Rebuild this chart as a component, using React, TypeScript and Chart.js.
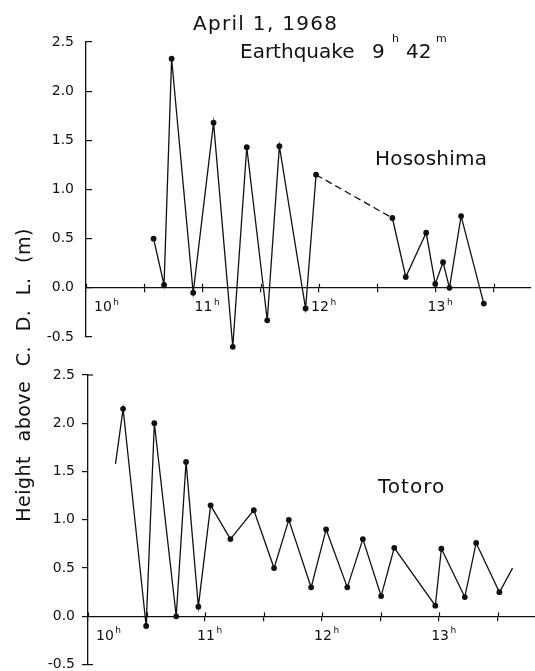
import React, { useEffect, useRef } from "react";
import { Chart, registerables } from "chart.js";

Chart.register(...registerables);

// ---------- data ----------
const hososhimaTime = [10.58, 10.67, 10.735, 10.92, 11.095, 11.26, 11.38, 11.556, 11.66, 11.885, 11.975, 12.63, 12.745, 12.92, 12.998, 13.065, 13.12, 13.22, 13.415];
const hososhimaHeight = [0.5, 0.03, 2.33, -0.05, 1.68, -0.6, 1.43, -0.33, 1.44, -0.21, 1.15, 0.71, 0.11, 0.56, 0.04, 0.26, 0.0, 0.73, -0.16];
// index of the segment drawn dashed (from point i to i+1)
const hososhimaDashedFrom = [10];

const totoroTime = [10.235, 10.3, 10.497, 10.567, 10.754, 10.838, 10.943, 11.048, 11.217, 11.417, 11.59, 11.716, 11.907, 12.035, 12.216, 12.349, 12.505, 12.617, 12.968, 13.02, 13.22, 13.317, 13.516, 13.628];
const totoroHeight = [1.58, 2.15, -0.1, 2.0, 0.0, 1.6, 0.1, 1.15, 0.8, 1.1, 0.5, 1.0, 0.3, 0.9, 0.3, 0.8, 0.21, 0.71, 0.11, 0.7, 0.2, 0.76, 0.25, 0.5];

const hourTicks = [10, 11, 12, 13];
const hourRange = [10, 13.82];
const heightRange = [-0.5, 2.5];
const heightStep = 0.5;
const hourStep = 0.5;

const titleDate = "April 1, 1968";
const titleQuake = "Earthquake";
const quakeHour = "9";
const quakeMinute = "42";
const yAxisTitle = "Height above C. D. L. (m)";
const stationTop = "Hososhima";
const stationBottom = "Totoro";

// ---------- style ----------
const FONT = '"DejaVu Sans", "Liberation Sans", sans-serif';
const INK = "#111111";
const POINT_R = 2.9;

type DecorOpts = {
  station: string;
  stationX: number;
  stationY: number;
  stationSpacing: number;
  rightCaps: boolean;
  titles: boolean;
};

function makeDecor(o: DecorOpts) {
  return {
    id: "decor",
    afterDatasetsDraw(chart: any) {
      // markers that fall outside the chart area (Chart.js skips them)
      const ctx: CanvasRenderingContext2D = chart.ctx;
      const area = chart.chartArea;
      const meta = chart.getDatasetMeta(0);
      ctx.save();
      ctx.fillStyle = INK;
      meta.data.forEach((pt: any) => {
        const r = pt.options ? pt.options.radius : 0;
        if (r > 0 && (pt.y > area.bottom || pt.y < area.top)) {
          ctx.beginPath();
          ctx.arc(pt.x, pt.y, r, 0, Math.PI * 2);
          ctx.fill();
        }
      });
      ctx.restore();
    },
    afterDraw(chart: any) {
      const ctx: CanvasRenderingContext2D = chart.ctx;
      const xs = chart.scales.x;
      const ys = chart.scales.y;
      const y0 = ys.getPixelForValue(0);
      ctx.save();
      ctx.strokeStyle = INK;
      ctx.fillStyle = INK;
      ctx.lineWidth = 1.2;
      // upper half of the x-axis tick marks
      xs.ticks.forEach((t: any) => {
        const px = Math.round(xs.getPixelForValue(t.value)) + 0.5;
        ctx.beginPath();
        ctx.moveTo(px, y0 - 4);
        ctx.lineTo(px, y0);
        ctx.stroke();
      });
      // end caps on the y-axis pointing right
      if (o.rightCaps) {
        const ax = chart.chartArea.left;
        [ys.getPixelForValue(heightRange[0]), ys.getPixelForValue(heightRange[1])].forEach((py: number) => {
          ctx.beginPath();
          ctx.moveTo(ax, py);
          ctx.lineTo(ax + 5, py);
          ctx.stroke();
        });
      }
      // hour labels with superscript h
      ctx.textAlign = "left";
      ctx.textBaseline = "alphabetic";
      hourTicks.forEach((h) => {
        const px = xs.getPixelForValue(h);
        ctx.font = `14px ${FONT}`;
        const txt = String(h);
        const w = ctx.measureText(txt).width;
        const left = h === xs.min ? px + 8 : px + 1 - w / 2;
        ctx.fillText(txt, left, y0 + 23.5);
        ctx.font = `9px ${FONT}`;
        ctx.fillText("h", left + w + 1.5, y0 + 17);
      });
      // station name
      ctx.font = `20px ${FONT}`;
      (ctx as any).letterSpacing = `${o.stationSpacing}px`;
      ctx.fillText(o.station, o.stationX, o.stationY);
      (ctx as any).letterSpacing = "0px";

      if (o.titles) {
        ctx.font = `20px ${FONT}`;
        (ctx as any).letterSpacing = "1.3px";
        ctx.fillText(titleDate, 193, 30);
        (ctx as any).letterSpacing = "0px";
        ctx.fillText(titleQuake, 240, 58);
        ctx.fillText(quakeHour, 372, 58);
        ctx.fillText(quakeMinute, 406, 58);
        ctx.font = `11px ${FONT}`;
        ctx.fillText("h", 392, 42);
        ctx.fillText("m", 436, 42);

        // y-axis title, spanning both panels
        ctx.save();
        ctx.translate(29.5, 375);
        ctx.rotate(-Math.PI / 2);
        ctx.font = `19px ${FONT}`;
        (ctx as any).letterSpacing = "0.5px";
        (ctx as any).wordSpacing = "8px";
        ctx.textAlign = "center";
        ctx.fillText(yAxisTitle, 0, 0);
        ctx.restore();
      }
      ctx.restore();
    },
  };
}

function makeConfig(
  times: number[],
  heights: number[],
  axisWidth: number,
  padTop: number,
  padBottom: number,
  yTickLen: number,
  yTickPad: number,
  isTop: boolean
): any {
  const last = times.length - 1;
  return {
    type: "line",
    data: {
      datasets: [
        {
          data: times.map((t, i) => ({ x: t, y: heights[i] })),
          borderColor: INK,
          borderWidth: 1.3,
          pointBackgroundColor: INK,
          pointBorderWidth: 0,
          pointRadius: (c: any) =>
            !isTop && (c.dataIndex === 0 || c.dataIndex === last) ? 0 : POINT_R,
          tension: 0,
          clip: false,
          segment: {
            borderDash: (c: any) =>
              isTop && hososhimaDashedFrom.includes(c.p0DataIndex) ? [7, 4] : undefined,
          },
        },
      ],
    },
    options: {
      animation: false,
      responsive: false,
      events: [],
      layout: { padding: { top: padTop, bottom: padBottom, left: 0, right: 0 } },
      plugins: {
        legend: { display: false },
        tooltip: { enabled: false },
        title: { display: false },
      },
      scales: {
        x: {
          type: "linear",
          min: hourRange[0],
          max: hourRange[1],
          position: { y: 0 },
          grid: {
            display: true,
            drawOnChartArea: false,
            drawTicks: true,
            tickLength: 4,
            color: INK,
            lineWidth: 1.2,
          },
          border: { display: true, color: INK, width: 1.3 },
          ticks: { display: false, stepSize: hourStep, includeBounds: false },
        },
        y: {
          type: "linear",
          position: "left",
          min: heightRange[0],
          max: heightRange[1],
          afterFit: (s: any) => {
            s.width = axisWidth;
          },
          grid: {
            display: true,
            drawOnChartArea: false,
            drawTicks: true,
            tickLength: yTickLen,
            color: INK,
            lineWidth: 1.2,
          },
          border: { display: true, color: INK, width: 1.3 },
          ticks: {
            stepSize: heightStep,
            padding: yTickPad,
            color: INK,
            font: { family: FONT, size: 14 },
            callback: (v: any) => Number(v).toFixed(1),
          },
        },
      },
    },
    plugins: [
      makeDecor(
        isTop
          ? { station: stationTop, stationX: 375, stationY: 165, stationSpacing: 0.2, rightCaps: false, titles: true }
          : { station: stationBottom, stationX: 378, stationY: 493, stationSpacing: 1, rightCaps: true, titles: false }
      ),
    ],
  };
}

export default function App() {
  const topRef = useRef<HTMLCanvasElement>(null);
  const botRef = useRef<HTMLCanvasElement>(null);

  useEffect(() => {
    const c1 = new Chart(
      topRef.current as HTMLCanvasElement,
      makeConfig(hososhimaTime, hososhimaHeight, 86, 42, 671 - 337, -6, 18, true)
    );
    const c2 = new Chart(
      botRef.current as HTMLCanvasElement,
      makeConfig(totoroTime, totoroHeight, 88, 375, 680 - 667, 6, 7, false)
    );
    return () => {
      c1.destroy();
      c2.destroy();
    };
  }, []);

  return (
    <div
      style={{
        position: "absolute",
        left: 0,
        top: 0,
        width: 535,
        height: 671,
        overflow: "hidden",
        background: "#fff",
      }}
    >
      <canvas ref={botRef} width={535} height={680} style={{ position: "absolute", left: 0, top: 0 }} />
      <canvas ref={topRef} width={535} height={671} style={{ position: "absolute", left: 0, top: 0 }} />
    </div>
  );
}
